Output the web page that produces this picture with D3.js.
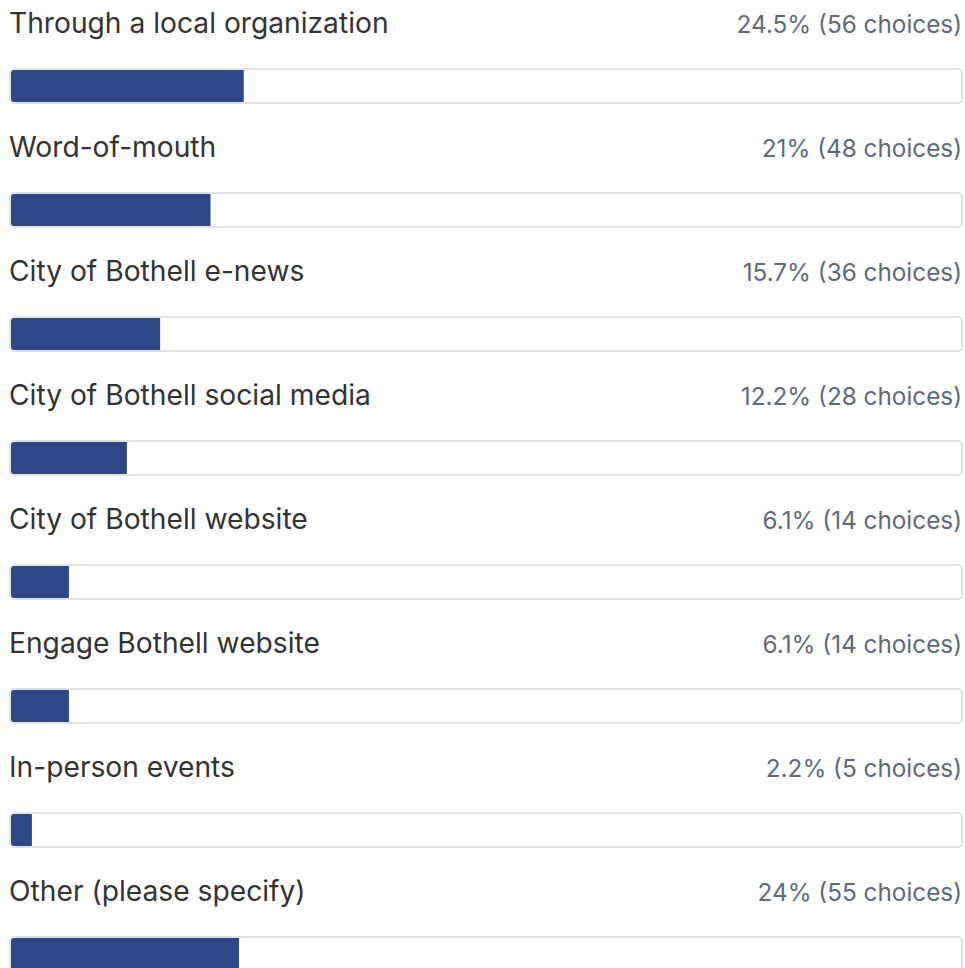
<!DOCTYPE html>
<html><head><meta charset="utf-8">
<script src="https://cdn.jsdelivr.net/npm/d3@7"></script>
<style>html,body{margin:0;padding:0;background:#fff;overflow:hidden}</style>
</head><body>
<script>
const categories = ["Through a local organization","Word-of-mouth","City of Bothell e-news","City of Bothell social media","City of Bothell website","Engage Bothell website","In-person events","Other (please specify)"];
const percents = [24.5,21,15.7,12.2,6.1,6.1,2.2,24];
const counts = [56,48,36,28,14,14,5,55];

const W = 965, H = 968;
const svg = d3.select("body").append("svg").attr("width",W).attr("height",H);
const y = d3.scaleBand().domain(categories).range([0, 124*categories.length]).padding(0);
const x = d3.scaleLinear().domain([0,100]).range([11, 961]);
const font = "Inter, 'Noto Sans', sans-serif";

const g = svg.selectAll("g.row").data(categories).enter().append("g")
  .attr("transform", d => `translate(0,${y(d)})`);

g.append("text").attr("x",9).attr("y",33).attr("font-family",font).attr("font-size",28.2)
  .attr("fill","#333").text(d=>d);
g.append("text").attr("x",962).attr("y",33).attr("text-anchor","end").attr("font-family",font)
  .attr("font-size",24.3).attr("fill","#5c6b7b")
  .text((d,i)=>`${percents[i]}% (${counts[i]} choices)`);
g.append("rect").attr("x",10).attr("y",69).attr("width",952).attr("height",34).attr("rx",4)
  .attr("fill","#fff").attr("stroke","#e2e2e2").attr("stroke-width",2);
g.append("path").attr("fill","#2e4787")
  .attr("d",(d,i)=>{
    const x0 = x(0), x1 = x(percents[i]), y0 = 70, y1 = 102, r = 3;
    return `M${x0+r},${y0}H${x1}V${y1}H${x0+r}Q${x0},${y1} ${x0},${y1-r}V${y0+r}Q${x0},${y0} ${x0+r},${y0}Z`;
  });
</script>
</body></html>
